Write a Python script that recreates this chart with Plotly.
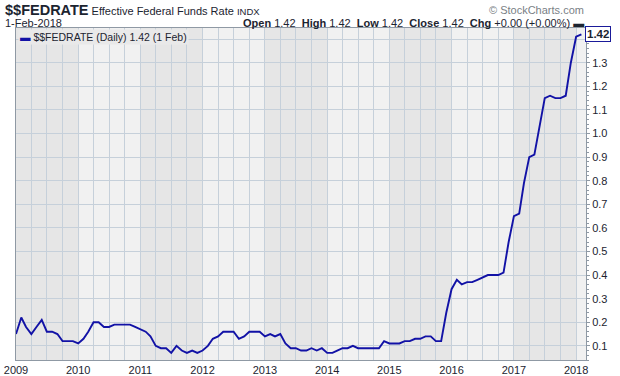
import pandas as pd
import plotly.graph_objects as go

# ---- data (monthly effective fed funds rate) ----
rates_2009 = [0.15, 0.22, 0.18, 0.15, 0.18, 0.21, 0.16, 0.16, 0.15, 0.12, 0.12, 0.12]
rates_2010 = [0.11, 0.13, 0.16, 0.20, 0.20, 0.18, 0.18, 0.19, 0.19, 0.19, 0.19, 0.18]
rates_2011 = [0.17, 0.16, 0.14, 0.10, 0.09, 0.09, 0.07, 0.10, 0.08, 0.07, 0.08, 0.07]
rates_2012 = [0.08, 0.10, 0.13, 0.14, 0.16, 0.16, 0.16, 0.13, 0.14, 0.16, 0.16, 0.16]
rates_2013 = [0.14, 0.15, 0.14, 0.15, 0.11, 0.09, 0.09, 0.08, 0.08, 0.09, 0.08, 0.09]
rates_2014 = [0.07, 0.07, 0.08, 0.09, 0.09, 0.10, 0.09, 0.09, 0.09, 0.09, 0.09, 0.12]
rates_2015 = [0.11, 0.11, 0.11, 0.12, 0.12, 0.13, 0.13, 0.14, 0.14, 0.12, 0.12, 0.24]
rates_2016 = [0.34, 0.38, 0.36, 0.37, 0.37, 0.38, 0.39, 0.40, 0.40, 0.40, 0.41, 0.54]
rates_2017 = [0.65, 0.66, 0.79, 0.90, 0.91, 1.04, 1.15, 1.16, 1.15, 1.15, 1.16, 1.30]
rates_2018 = [1.41, 1.42]

year_ticks = ["2009", "2010", "2011", "2012", "2013", "2014", "2015", "2016", "2017", "2018"]
y_ticks = [0.1, 0.2, 0.3, 0.4, 0.5, 0.6, 0.7, 0.8, 0.9, 1.0, 1.1, 1.2, 1.3, 1.4]
last_value = 1.42

values = (rates_2009 + rates_2010 + rates_2011 + rates_2012 + rates_2013 +
          rates_2014 + rates_2015 + rates_2016 + rates_2017 + rates_2018)
dates = pd.date_range("2009-01-01", periods=len(values), freq="MS")

FONT = "Liberation Sans, Arial, sans-serif"
TXT = "#1c2430"
LINE = "#1212a6"
GRID = "#c6d0da"
BORDER = "#8f99a4"

fig = go.Figure()
fig.add_trace(go.Scatter(x=dates, y=values, mode="lines",
                         line=dict(color=LINE, width=1.9), hoverinfo="skip"))

# alternating yearly bands
shapes = []
for i, yr in enumerate(year_ticks):
    if i % 2 == 0:
        shapes.append(dict(type="rect", xref="x", yref="paper",
                           x0=f"{yr}-01-01", x1=f"{int(yr)+1}-01-01", y0=0, y1=1,
                           fillcolor="#e6e6e6", line=dict(width=0), layer="below"))

fig.update_layout(
    width=620, height=376,
    margin=dict(l=16, r=34, t=28, b=16, autoexpand=False),
    paper_bgcolor="white", plot_bgcolor="#f1f1f1",
    showlegend=False, shapes=shapes,
    font=dict(family=FONT, size=11, color=TXT),
    xaxis=dict(
        type="date", range=["2009-01-01", "2018-02-28"], automargin=False,
        tickvals=[f"{y}-01-01" for y in year_ticks], ticktext=year_ticks,
        showgrid=True, gridcolor=GRID, gridwidth=1,
        minor=dict(dtick="M3", tick0="2009-01-01", showgrid=True, gridcolor=GRID, gridwidth=1),
        showline=True, linecolor=BORDER, linewidth=1, mirror=True,
        ticks="", tickfont=dict(size=11, color=TXT, family=FONT),
        zeroline=False, fixedrange=True,
    ),
    yaxis=dict(
        side="right", range=[0.04, 1.447], automargin=False,
        tickvals=y_ticks, ticktext=[f"{v:.1f}" if v < 1.35 else "" for v in y_ticks],
        showgrid=True, gridcolor=GRID, gridwidth=1,
        showline=True, linecolor=BORDER, linewidth=1, mirror=True,
        ticks="outside", ticklen=3, tickcolor=BORDER,
        minor=dict(dtick=0.02, ticks="outside", ticklen=2, tickcolor=BORDER, showgrid=False),
        tickfont=dict(size=11, color=TXT, family=FONT),
        zeroline=False, fixedrange=True,
    ),
)

ann = []
# title
ann.append(dict(xref="paper", yref="paper", x=0, y=1, xanchor="left", yanchor="middle",
                xshift=-13, yshift=18, showarrow=False,
                text="<span style='font-size:14.5px'><b>$$FEDRATE</b></span> Effective Federal Funds Rate "
                     "<span style='font-size:9.5px'>INDX</span>",
                font=dict(family=FONT, size=11, color=TXT)))
ann.append(dict(xref="paper", yref="paper", x=0, y=1, xanchor="left", yanchor="middle",
                xshift=-13, yshift=5, showarrow=False, text="1-Feb-2018",
                font=dict(family=FONT, size=11, color=TXT)))
# watermark
ann.append(dict(xref="paper", yref="paper", x=1, y=1, xanchor="right", yanchor="middle",
                yshift=18, showarrow=False, text="© StockCharts.com",
                font=dict(family=FONT, size=11, color="#7a7f86")))
# OHLC line
sp = "\u00a0"
ohlc = (f"<b>Open</b> {last_value:.2f}{sp}{sp}<b>High</b> {last_value:.2f}{sp}{sp}"
        f"<b>Low</b> {last_value:.2f}{sp}{sp}<b>Close</b> {last_value:.2f}{sp}{sp}"
        f"<b>Chg</b> +0.00 (+0.00%) <b>▬</b>")
ann.append(dict(xref="paper", yref="paper", x=1, y=1, xanchor="right", yanchor="middle",
                yshift=5, showarrow=False, text=ohlc,
                font=dict(family=FONT, size=11, color=TXT)))
# legend
ann.append(dict(xref="paper", yref="paper", x=0, y=1, xanchor="left", yanchor="top",
                yshift=-1, xshift=2, showarrow=False,
                text=f"<span style='color:{LINE}'><b>▬</b></span> $$FEDRATE (Daily) {last_value:.2f} (1 Feb)",
                bgcolor="#e9e9e9", borderpad=1,
                font=dict(family=FONT, size=10.5, color=TXT)))
# last value box
ann.append(dict(xref="paper", yref="y", x=1, y=last_value, xanchor="left", yanchor="middle",
                xshift=-1, showarrow=False, text=f"<b>{last_value:.2f}</b>",
                bgcolor="white", bordercolor="#1a1a9a", borderwidth=1, borderpad=1,
                font=dict(family=FONT, size=11.5, color=TXT)))
fig.update_layout(annotations=ann)

fig.write_html("out.html", config={"displayModeBar": False, "staticPlot": True},
               post_script="document.body.style.margin='0px';")
